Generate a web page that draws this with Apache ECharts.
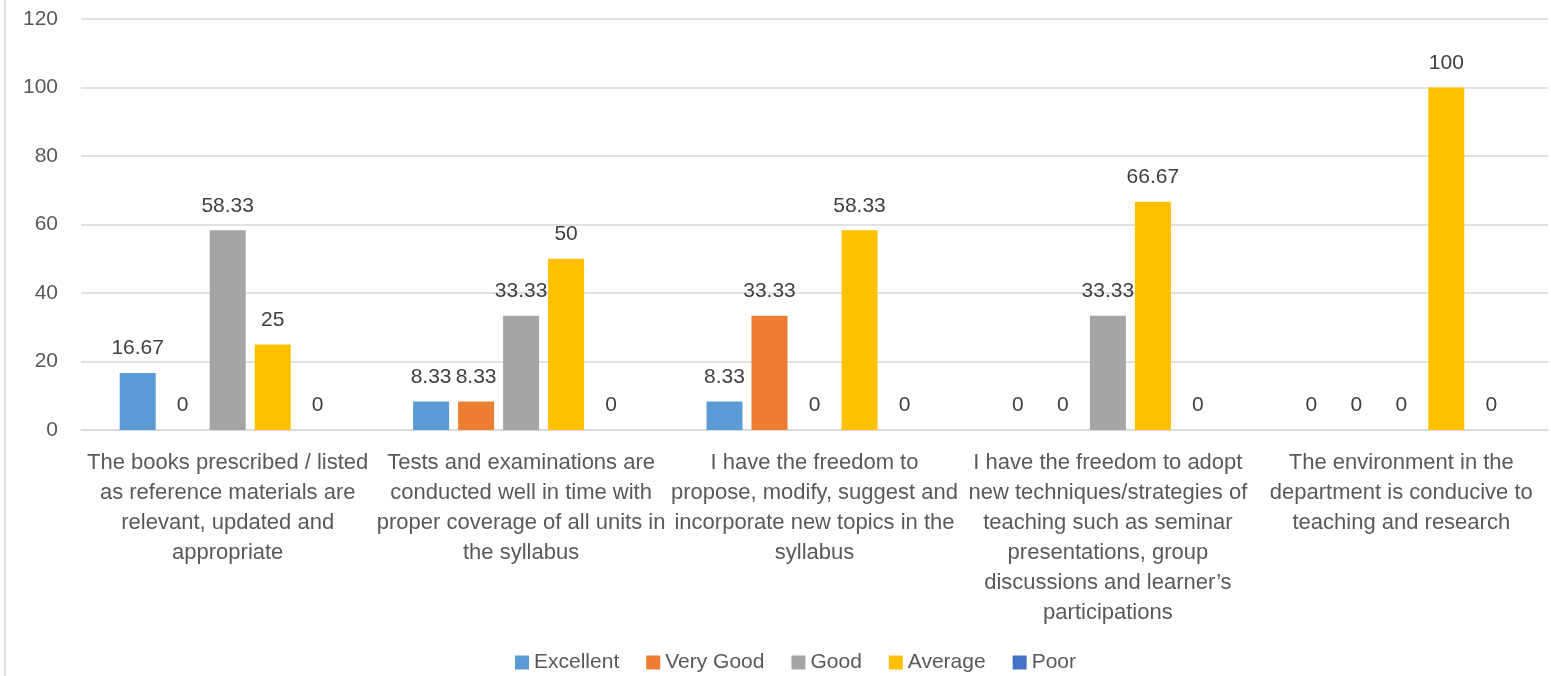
<!DOCTYPE html>
<html>
<head>
<meta charset="utf-8">
<style>
  html, body { margin: 0; padding: 0; background: #fff; }
  #chart { width: 1551px; height: 676px; }
</style>
<script src="https://cdn.jsdelivr.net/npm/echarts@6/dist/echarts.min.js"></script>
</head>
<body>
<div id="chart"></div>
<script>
// Survey statements (line breaks as they wrap under each group)
const categories = [
  "The books prescribed / listed\nas reference materials are\nrelevant, updated and\nappropriate",
  "Tests and examinations are\nconducted well in time with\nproper coverage of all units in\nthe syllabus",
  "I have the freedom to\npropose, modify, suggest and\nincorporate new topics in the\nsyllabus",
  "I have the freedom to adopt\nnew techniques/strategies of\nteaching such as seminar\npresentations, group\ndiscussions and learner\u2019s\nparticipations",
  "The environment in the\ndepartment is conducive to\nteaching and research"
];

// Percentage of responses per rating
const excellent = [16.67, 8.33, 8.33, 0, 0];
const veryGood  = [0, 8.33, 33.33, 0, 0];
const good      = [58.33, 33.33, 0, 33.33, 0];
const average   = [25, 50, 58.33, 66.67, 100];
const poor      = [0, 0, 0, 0, 0];

const seriesNames = ["Excellent", "Very Good", "Good", "Average", "Poor"];
const seriesData = [excellent, veryGood, good, average, poor];
const seriesColors = ["#5B9BD5", "#ED7D31", "#A5A5A5", "#FFC000", "#4472C4"];

const yTicks = { min: 0, max: 120, interval: 20 };

const FONT = "'Liberation Sans', Arial, sans-serif";

const chart = echarts.init(document.getElementById("chart"), null, { renderer: "canvas" });

chart.setOption({
  animation: false,
  backgroundColor: "#fff",
  textStyle: { fontFamily: FONT },
  graphic: [{
    type: "line",
    shape: { x1: 5, y1: 0, x2: 5, y2: 676 },
    style: { stroke: "#D9D9D9", lineWidth: 1.5 }
  }],
  grid: { left: 81, right: 3, top: 19, bottom: 246, containLabel: false },
  legend: {
    left: 510,
    top: 647,
    itemWidth: 14,
    itemHeight: 14,
    itemGap: 27,
    icon: "rect",
    textStyle: { fontSize: 21, color: "#595959", fontFamily: FONT },
    data: seriesNames
  },
  xAxis: {
    type: "category",
    data: categories,
    axisLine: { lineStyle: { color: "#D9D9D9", width: 1.5 } },
    axisTick: { show: false },
    axisLabel: {
      interval: 0,
      margin: 18,
      color: "#595959",
      fontSize: 22,
      lineHeight: 30,
      fontFamily: FONT,
      align: "center",
      verticalAlign: "top"
    }
  },
  yAxis: {
    type: "value",
    min: yTicks.min,
    max: yTicks.max,
    interval: yTicks.interval,
    axisLine: { show: false },
    axisTick: { show: false },
    splitLine: { lineStyle: { color: "#D9D9D9", width: 1.5 } },
    axisLabel: { color: "#595959", fontSize: 21, margin: 23, fontFamily: FONT }
  },
  series: seriesNames.map((name, i) => ({
    name: name,
    type: "bar",
    data: seriesData[i],
    barWidth: 36,
    barGap: "25%",
    itemStyle: { color: seriesColors[i] },
    label: {
      show: true,
      position: "top",
      distance: 14,
      color: "#404040",
      fontSize: 21,
      fontFamily: FONT,
      formatter: p => String(p.value)
    }
  }))
});
</script>
</body>
</html>
